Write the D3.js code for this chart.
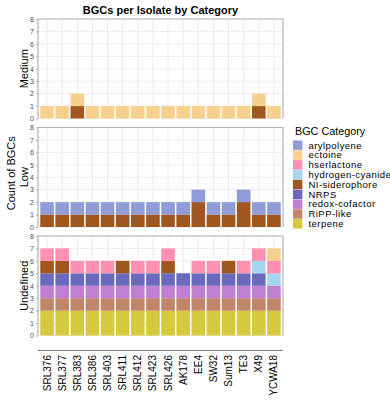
<!DOCTYPE html>
<html>
<head>
<meta charset="utf-8">
<script src="https://cdn.jsdelivr.net/npm/d3@7"></script>
<style>
  body { margin: 0; background: #fff; }
  text { font-family: "Liberation Sans", Arial, sans-serif; }
</style>
</head>
<body>
<div id="chart"></div>
<script>
// isolates on the x axis
var isolates = ["SRL376", "SRL377", "SRL383", "SRL386", "SRL403", "SRL411", "SRL412", "SRL423",
  "SRL426", "AK178", "EE4", "SW32", "Sum13", "TE3", "X49", "YCWA18"];

// legend order (ggplot stacks the first one on top)
var categories = ["arylpolyene", "ectoine", "hserlactone", "hydrogen-cyanide", "NI-siderophore",
  "NRPS", "redox-cofactor", "RiPP-like", "terpene"];
var colors = ["#8f9cd8", "#f8d08d", "#fe90b2", "#a5d4ee", "#a0571f",
  "#6a69bd", "#c17fd2", "#c1856a", "#d5c93d"];

var tiers = ["Medium", "Low", "Undefined"];

// counts per isolate, same order as isolates
var mediumEctoine      = [1,1,1,1,1,1,1,1,1,1,1,1,1,1,1,1];
var mediumSiderophore  = [0,0,1,0,0,0,0,0,0,0,0,0,0,0,1,0];

var lowArylpolyene     = [1,1,1,1,1,1,1,1,1,1,1,1,1,1,1,1];
var lowSiderophore     = [1,1,1,1,1,1,1,1,1,1,2,1,1,2,1,1];

var undefTerpene       = [2,2,2,2,2,2,2,2,2,2,2,2,2,2,2,2];
var undefRipp          = [1,1,1,1,1,1,1,1,1,1,1,1,1,1,1,1];
var undefRedox         = [1,1,1,1,1,1,1,1,1,1,1,1,1,1,1,1];
var undefNrps          = [1,1,1,1,1,1,1,1,1,1,1,1,1,1,1,0];
var undefSiderophore   = [1,1,0,0,0,1,0,0,1,0,0,0,1,0,0,0];
var undefCyanide       = [0,0,0,0,0,0,0,0,0,0,0,0,0,0,1,1];
var undefHserlactone   = [1,1,1,1,1,0,1,1,1,0,1,1,0,1,1,1];
var undefEctoine       = [0,0,0,0,0,0,0,0,0,0,0,0,0,0,0,1];

var yTicks = [0, 1, 2, 3, 4, 5, 6, 7, 8];

// build one row per isolate for each tier
function rows(series) {
  return isolates.map(function(iso, i) {
    var r = { isolate: iso };
    categories.forEach(function(c) { r[c] = series[c] ? series[c][i] : 0; });
    return r;
  });
}
var tierData = {
  "Medium": rows({ "ectoine": mediumEctoine, "NI-siderophore": mediumSiderophore }),
  "Low": rows({ "arylpolyene": lowArylpolyene, "NI-siderophore": lowSiderophore }),
  "Undefined": rows({
    "terpene": undefTerpene, "RiPP-like": undefRipp, "redox-cofactor": undefRedox,
    "NRPS": undefNrps, "NI-siderophore": undefSiderophore, "hydrogen-cyanide": undefCyanide,
    "hserlactone": undefHserlactone, "ectoine": undefEctoine
  })
};

var width = 390, height = 400;
var plotLeft = 38, plotRight = 283;
var panelTop = 19, panelH = 99.5, panelGap = 9;

var svg = d3.select("#chart").append("svg")
  .attr("width", width)
  .attr("height", height);

var color = d3.scaleOrdinal().domain(categories).range(colors);

var x = d3.scaleBand()
  .domain(isolates)
  .range([plotLeft, plotRight])
  .paddingInner(0.1)
  .paddingOuter(0.15);

// stack from the bottom: reverse of legend order
var stack = d3.stack().keys(categories.slice().reverse());

// Title
svg.append("text")
  .attr("x", (plotLeft + plotRight) / 2)
  .attr("y", 14)
  .attr("text-anchor", "middle")
  .style("font-size", "11px")
  .style("font-weight", "bold")
  .text("BGCs per Isolate by Category");

tiers.forEach(function(tier, ti) {
  var top = panelTop + ti * (panelH + panelGap);
  var y = d3.scaleLinear().domain([0, 8]).range([top + panelH, top]);
  var g = svg.append("g");

  // minor + major grid
  g.selectAll(".minor").data(d3.range(0.5, 8, 1)).enter().append("line")
    .attr("x1", plotLeft).attr("x2", plotRight)
    .attr("y1", function(d) { return y(d); }).attr("y2", function(d) { return y(d); })
    .style("stroke", "#f4f4f4").style("stroke-width", 0.6);
  g.selectAll(".major").data(yTicks).enter().append("line")
    .attr("x1", plotLeft).attr("x2", plotRight)
    .attr("y1", function(d) { return y(d); }).attr("y2", function(d) { return y(d); })
    .style("stroke", "#ebebeb").style("stroke-width", 1);
  g.selectAll(".vgrid").data(isolates).enter().append("line")
    .attr("x1", function(d) { return x(d) + x.bandwidth() / 2; })
    .attr("x2", function(d) { return x(d) + x.bandwidth() / 2; })
    .attr("y1", top).attr("y2", top + panelH)
    .style("stroke", "#ebebeb").style("stroke-width", 1);

  // bars
  var series = stack(tierData[tier]);
  g.selectAll(".layer").data(series).enter().append("g")
    .style("fill", function(d) { return color(d.key); })
    .selectAll("rect")
    .data(function(d) { return d.filter(function(p) { return p[1] > p[0]; }); })
    .enter().append("rect")
    .attr("x", function(d) { return x(d.data.isolate); })
    .attr("width", x.bandwidth())
    .attr("y", function(d) { return y(d[1]); })
    .attr("height", function(d) { return y(d[0]) - y(d[1]); });

  // panel border (top, left, right)
  g.append("path")
    .attr("d", "M" + plotLeft + "," + (top + panelH) + "V" + top + "H" + plotRight + "V" + (top + panelH))
    .style("fill", "none")
    .style("stroke", "#b3b3b3")
    .style("stroke-width", 1.2);

  // y axis
  var ax = g.append("g")
    .attr("transform", "translate(" + plotLeft + ",0)")
    .call(d3.axisLeft(y).tickValues(yTicks).tickSize(2).tickPadding(2));
  ax.select(".domain").remove();
  ax.selectAll(".tick line").style("stroke", "#b3b3b3");
  ax.selectAll(".tick text").style("font-size", "7px").style("fill", "#4d4d4d")
    .style("font-family", "Liberation Sans, Arial, sans-serif");

  // strip label
  svg.append("text")
    .attr("transform", "translate(28," + (top + panelH / 2) + ") rotate(-90)")
    .attr("text-anchor", "middle")
    .style("font-size", "11px")
    .text(tier);
});

// bottom axis line
svg.append("line")
  .attr("x1", plotLeft).attr("x2", plotRight)
  .attr("y1", 350.5).attr("y2", 350.5)
  .style("stroke", "#777").style("stroke-width", 1.2);

// x labels
svg.selectAll(".xlab").data(isolates).enter().append("text")
  .attr("transform", function(d) {
    return "translate(" + (x(d) + x.bandwidth() / 2 + 3.5) + ",355) rotate(-90)";
  })
  .attr("text-anchor", "end")
  .style("font-size", "10px")
  .text(function(d) { return d; });

// y title
svg.append("text")
  .attr("transform", "translate(15," + (panelTop + (3 * panelH + 2 * panelGap) / 2 - 4) + ") rotate(-90)")
  .attr("text-anchor", "middle")
  .style("font-size", "11px")
  .text("Count of BGCs");

// legend
var legend = svg.append("g").attr("transform", "translate(293,130)");
legend.append("text")
  .attr("x", 2).attr("y", 5)
  .style("font-size", "10.8px")
  .text("BGC Category");
var item = legend.selectAll(".item").data(categories).enter().append("g")
  .attr("transform", function(d, i) { return "translate(0," + (10.5 + i * 9.83) + ")"; });
item.append("rect")
  .attr("width", 9.4).attr("height", 9.4)
  .style("fill", function(d) { return color(d); });
item.append("text")
  .attr("x", 15.5).attr("y", 8)
  .style("font-size", "9.5px")
  .style("letter-spacing", "0.45px")
  .text(function(d) { return d; });
</script>
</body>
</html>
